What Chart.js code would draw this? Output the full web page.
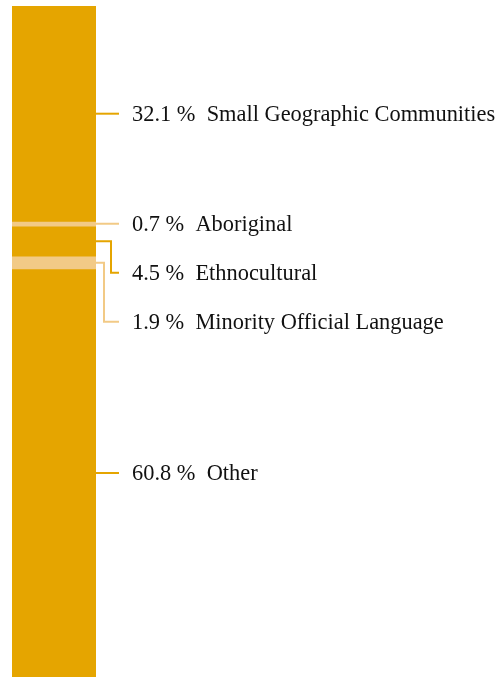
<!DOCTYPE html>
<html lang="en">
<head>
  <meta charset="UTF-8" />
  <title>Share by community</title>
  <script src="https://cdn.jsdelivr.net/npm/chart.js"></script>
  <style>
    html, body { margin: 0; padding: 0; background: #fff; }
    #wrap { width: 499px; height: 677px; }
  </style>
</head>
<body>
<div id="wrap"><canvas id="barra"></canvas></div>
<script>
  // data, top to bottom
  const categorias = ['Small Geographic Communities', 'Aboriginal', 'Ethnocultural', 'Minority Official Language', 'Other'];
  const porcentajes = [32.1, 0.7, 4.5, 1.9, 60.8];
  const colores = ['#E5A500', '#F2CA86', '#E5A500', '#F2CA86', '#E5A500'];

  // label + leader lines
  const etiquetasPlugin = {
    id: 'etiquetas',
    afterDatasetsDraw(chart) {
      const ctx = chart.ctx;
      const minGap = 49;
      const textX = 132;
      const lineEnd = 119;
      const codos = [111, 104];
      let prevY = -Infinity;
      let k = 0;
      ctx.save();
      ctx.font = '22.4px "Liberation Serif", "Times New Roman", serif';
      ctx.textAlign = 'left';
      ctx.textBaseline = 'alphabetic';
      ctx.lineWidth = 2;
      categorias.forEach((cat, i) => {
        const bar = chart.getDatasetMeta(i).data[0];
        const segY = (bar.y + bar.base) / 2;
        const barRight = bar.x + bar.width / 2;
        const y = Math.max(segY, prevY + minGap);
        prevY = y;
        ctx.strokeStyle = colores[i];
        ctx.beginPath();
        if (y - segY > 1) {
          const codo = codos[k++] || 108;
          ctx.moveTo(barRight, segY);
          ctx.lineTo(codo, segY);
          ctx.lineTo(codo, y);
          ctx.lineTo(lineEnd, y);
        } else {
          ctx.moveTo(barRight, y);
          ctx.lineTo(lineEnd, y);
        }
        ctx.stroke();
        ctx.fillStyle = '#111';
        ctx.fillText(`${porcentajes[i].toFixed(1)} %  ${cat}`, textX, y + 7);
      });
      ctx.restore();
    }
  };

  new Chart(document.getElementById('barra').getContext('2d'), {
    type: 'bar',
    data: {
      labels: [''],
      datasets: categorias.map((cat, i) => ({
        label: cat,
        data: [porcentajes[i]],
        backgroundColor: colores[i],
        borderWidth: 0,
        barPercentage: 1,
        categoryPercentage: 1
      }))
    },
    options: {
      responsive: true,
      maintainAspectRatio: false,
      animation: false,
      layout: { padding: { left: 12, right: 403, top: 6, bottom: 0 } },
      plugins: {
        legend: { display: false },
        tooltip: { enabled: false }
      },
      scales: {
        x: { stacked: true, display: false },
        y: { stacked: true, display: false, reverse: true, min: 0, max: 100 }
      }
    },
    plugins: [etiquetasPlugin]
  });
</script>
</body>
</html>
